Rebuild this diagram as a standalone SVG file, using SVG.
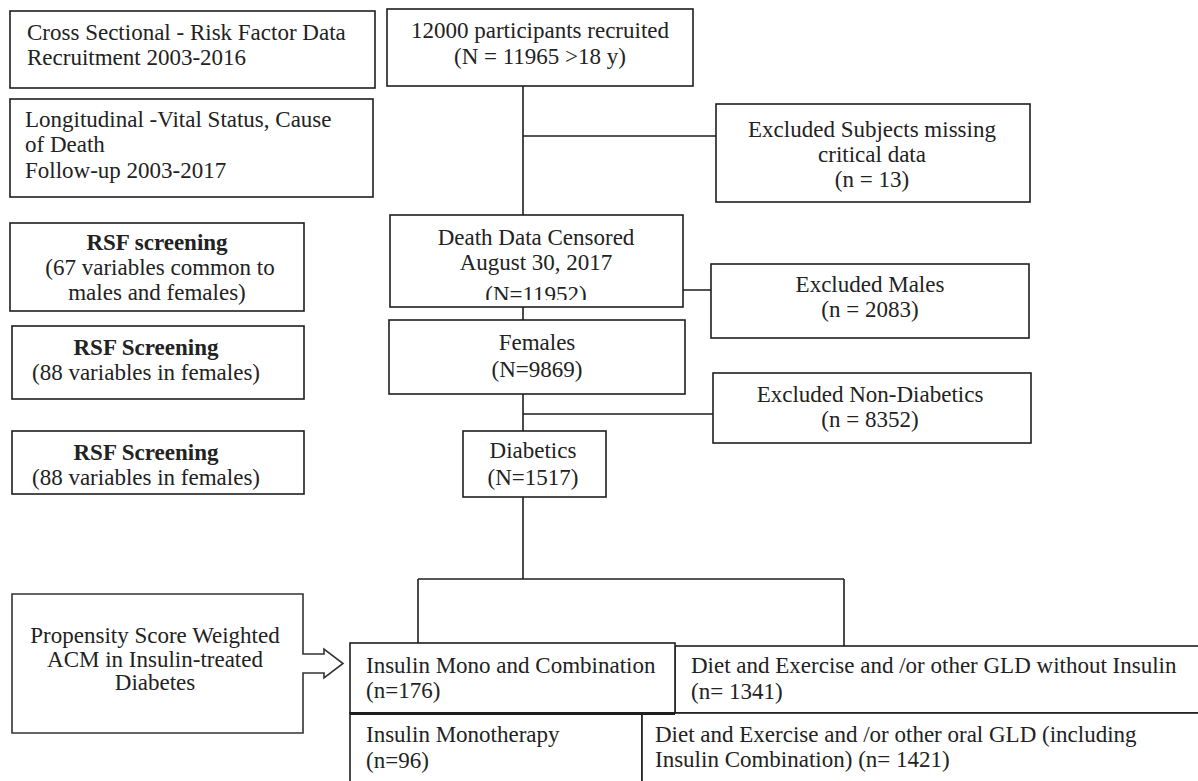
<svg xmlns="http://www.w3.org/2000/svg" width="1198" height="781" viewBox="0 0 1198 781">
<style>
.b{fill:#fff;stroke:#1e1e1e;stroke-width:1.6}
.c{fill:none;stroke:#1e1e1e;stroke-width:1.6}
text{font-family:"Liberation Serif","Times New Roman",serif;font-size:23px;fill:#222}
.m{text-anchor:middle}
.bold{font-weight:bold}
</style>
<defs>
<clipPath id="deathClip"><rect x="390" y="215" width="293" height="85"/></clipPath>
</defs>
<rect width="1198" height="781" fill="#fff"/>
<g id="connectors">
<path class="c" d="M523,86 V215 M523,136 H716 M523,307 V320 M683,290 H711 M523,394 V431 M523,414 H713 M523,497 V579 M418,579 H844 M418,579 V643 M844,579 V646"/>
</g>
<g id="n-cross">
<rect class="b" x="10" y="11" width="365" height="77"/>
<text x="27" y="40">Cross Sectional - Risk Factor Data</text>
<text x="27" y="65">Recruitment 2003-2016</text>
</g>
<g id="n-long">
<rect class="b" x="10" y="99" width="363" height="98"/>
<text x="25" y="127">Longitudinal -Vital Status, Cause</text>
<text x="25" y="152">of Death</text>
<text x="25" y="178">Follow-up 2003-2017</text>
</g>
<g id="n-rsf1">
<rect class="b" x="10" y="223" width="294" height="88"/>
<text class="m bold" x="157" y="250">RSF screening</text>
<text class="m" x="160" y="275">(67 variables common to</text>
<text class="m" x="157" y="300">males and females)</text>
</g>
<g id="n-rsf2">
<rect class="b" x="12" y="326" width="292" height="73"/>
<text class="m bold" x="146" y="355">RSF Screening</text>
<text class="m" x="146" y="380">(88 variables in females)</text>
</g>
<g id="n-rsf3">
<rect class="b" x="12" y="431" width="292" height="63"/>
<text class="m bold" x="146" y="460">RSF Screening</text>
<text class="m" x="146" y="485">(88 variables in females)</text>
</g>
<g id="n-recruited">
<rect class="b" x="387" y="9" width="306" height="77"/>
<text class="m" x="540" y="38">12000 participants recruited</text>
<text class="m" x="540" y="64">(N = 11965 &gt;18 y)</text>
</g>
<g id="n-excl-missing">
<rect class="b" x="716" y="104" width="314" height="98"/>
<text class="m" x="872" y="137">Excluded Subjects missing</text>
<text class="m" x="872" y="162">critical data</text>
<text class="m" x="872" y="187">(n = 13)</text>
</g>
<g id="n-death">
<rect class="b" x="390" y="215" width="293" height="92"/>
<text class="m" x="536" y="245">Death Data Censored</text>
<text class="m" x="536" y="270">August 30, 2017</text>
<text class="m" x="536" y="302" clip-path="url(#deathClip)">(N=11952)</text>
</g>
<g id="n-excl-males">
<rect class="b" x="711" y="264" width="318" height="74"/>
<text class="m" x="870" y="292">Excluded Males</text>
<text class="m" x="870" y="317">(n = 2083)</text>
</g>
<g id="n-females">
<rect class="b" x="389" y="320" width="296" height="74"/>
<text class="m" x="537" y="350">Females</text>
<text class="m" x="537" y="377">(N=9869)</text>
</g>
<g id="n-excl-nondiab">
<rect class="b" x="713" y="373" width="318" height="70"/>
<text class="m" x="870" y="402">Excluded Non-Diabetics</text>
<text class="m" x="870" y="427">(n = 8352)</text>
</g>
<g id="n-diabetics">
<rect class="b" x="463" y="431" width="143" height="66"/>
<text class="m" x="533" y="458">Diabetics</text>
<text class="m" x="533" y="485">(N=1517)</text>
</g>
<g id="n-propensity">
<path class="b" d="M12,594 H303 V654 H324 V649 L343,663.5 L324,678 V673 H303 V733 H12 Z" style="stroke:#333"/>
<text class="m" x="155" y="643">Propensity Score Weighted</text>
<text class="m" x="155" y="667">ACM in Insulin-treated</text>
<text class="m" x="155" y="690">Diabetes</text>
</g>
<g id="n-diet-noinsulin">
<rect class="b" x="675" y="646" width="530" height="67"/>
<text x="691" y="673">Diet and Exercise and /or other GLD without Insulin</text>
<text x="691" y="699">(n= 1341)</text>
</g>
<g id="n-insulin-mono">
<rect class="b" x="350" y="713" width="292" height="80"/>
<text x="366" y="742">Insulin Monotherapy</text>
<text x="366" y="768">(n=96)</text>
</g>
<g id="n-diet-oral">
<rect class="b" x="642" y="713" width="563" height="80"/>
<text x="655" y="742">Diet and Exercise and /or other oral GLD (including</text>
<text x="655" y="767">Insulin Combination) (n= 1421)</text>
</g>
<g id="n-insulin-mono-comb">
<rect class="b" x="350" y="643" width="325" height="70"/>
<path class="c" d="M350,713.5 H675" style="stroke-width:3"/>
<text x="366" y="673">Insulin Mono and Combination</text>
<text x="366" y="698">(n=176)</text>
</g>
</svg>
